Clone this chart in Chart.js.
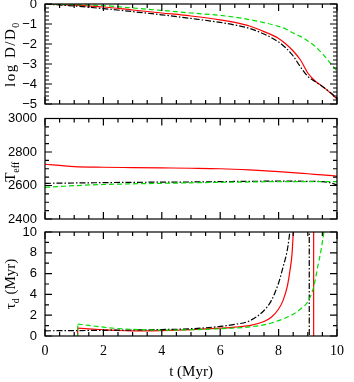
<!DOCTYPE html>
<html>
<head>
<meta charset="utf-8">
<script src="https://cdn.jsdelivr.net/npm/chart.js@4.4.1/dist/chart.umd.min.js"></script>
<style>
  body { margin: 0; background: #fff; width: 354px; height: 382px; position: relative; overflow: hidden; }
  canvas { position: absolute; left: 0; }
</style>
</head>
<body>
<canvas id="p1" style="top:-6px" width="354" height="121"></canvas>
<canvas id="p2" style="top:108px" width="354" height="122"></canvas>
<canvas id="p3" style="top:222px" width="354" height="160"></canvas>
<script>
// top panel: log D/D0
const tD = [0, 1, 2, 3, 4, 5, 6, 6.5, 7, 7.5, 8, 8.25, 8.5, 8.75, 9, 9.25, 9.5, 9.75, 10];
const logDRed = [0, -0.06, -0.15, -0.3, -0.45, -0.6, -0.79, -0.92, -1.1, -1.38, -1.72, -2.0, -2.35, -2.8, -3.45, -3.85, -4.12, -4.42, -4.75];
const logDBlack = [0, -0.1, -0.23, -0.38, -0.54, -0.72, -0.92, -1.05, -1.22, -1.5, -1.9, -2.2, -2.6, -3.15, -3.62, -3.88, -4.12, -4.4, -4.7];
const logDGreen = [0, -0.03, -0.08, -0.2, -0.32, -0.45, -0.57, -0.66, -0.78, -0.93, -1.12, -1.25, -1.45, -1.62, -1.85, -2.12, -2.48, -2.92, -3.35];

// middle panel: Teff
const tT = [0, 0.5, 1, 2, 3, 4, 5, 6, 7, 8, 9, 9.5, 9.75, 10];
const teffRed = [2727, 2720, 2713, 2709, 2707, 2705, 2703, 2700, 2693, 2683, 2670, 2663, 2660, 2656];
const teffBlack = [2613, 2614, 2615, 2617, 2619, 2620, 2621, 2623, 2625, 2626, 2625, 2623, 2617, 2604];
const teffGreen = [2589, 2594, 2599, 2606, 2610, 2613, 2616, 2619, 2621, 2623, 2623, 2623, 2623, 2623];

// bottom panel: tau_d
const tTauBlack = [0, 1, 2, 3, 4, 5, 6, 6.5, 7, 7.5, 7.75, 8, 8.15, 8.3, 8.4];
const tauBlack = [0.5, 0.52, 0.55, 0.58, 0.62, 0.7, 0.92, 1.12, 1.45, 2.45, 3.4, 5.1, 6.6, 8.3, 10.3];
const tTauRed = [1.12, 1.5, 2, 2.5, 3, 4, 5, 6, 6.5, 7, 7.5, 7.75, 8, 8.15, 8.3, 8.4, 8.46, 8.5, 8.53];
const tauRed = [0.75, 0.68, 0.6, 0.53, 0.5, 0.52, 0.6, 0.75, 0.86, 1.0, 1.4, 1.8, 2.6, 3.4, 4.8, 6.5, 7.9, 9.8, 11.5];
const tTauGreen = [1.12, 1.5, 2, 2.5, 3, 4, 5, 6, 6.5, 7, 7.5, 8, 8.5, 8.75, 9, 9.2, 9.35, 9.45, 9.55, 9.6];
const tauGreen = [1.15, 1.02, 0.85, 0.72, 0.64, 0.57, 0.6, 0.7, 0.77, 0.87, 1.07, 1.48, 2.1, 2.6, 3.3, 4.7, 6.8, 8.2, 10, 11.2];
// vertical jumps (t, tau); null splits the line
const jumpRed = [[1.12, -1], [1.12, 0.75], [9.2, null], [9.2, -1], [9.2, 11]];
const jumpGreen = [[1.12, -1], [1.12, 1.15]];
const jumpBlack = [[9.05, -1], [9.05, 11]];

const RED = '#ff0000', GREEN = '#00dd00', BLACK = '#000000';
const DASHDOT = [6, 2, 1.5, 2], DASHED = [5, 3];
const SANS = 'Liberation Sans', SERIF = 'Liberation Serif';

const pts = (xs, ys) => xs.map((x, i) => ({ x: x, y: ys[i] }));
const pairs = arr => arr.map(p => ({ x: p[0], y: p[1] }));

function curve(data, color, dash, smooth) {
  return {
    data: data,
    borderColor: color,
    borderWidth: 1.2,
    borderDash: dash || [],
    pointRadius: 0,
    fill: false,
    tension: 0,
    cubicInterpolationMode: smooth ? 'monotone' : 'default',
  };
}

// box + inside ticks on all sides, plus y title with subscripts
const framePlugin = {
  id: 'frame',
  afterDatasetsDraw(chart, args, opts) {
    const { ctx, chartArea: a } = chart;
    const x = chart.scales.x, y = chart.scales.y;
    ctx.save();
    ctx.strokeStyle = '#000';
    ctx.lineWidth = 1.2;
    ctx.setLineDash([]);
    ctx.strokeRect(a.left, a.top, a.right - a.left, a.bottom - a.top);
    const isMajor = (v, step) => Math.abs(v / step - Math.round(v / step)) < 1e-6;
    ctx.beginPath();
    for (let v = x.min; v <= x.max + 1e-9; v += opts.xMinor) {
      const px = x.getPixelForValue(v);
      const len = isMajor(v, opts.xMajor) ? 7 : 4;
      ctx.moveTo(px, a.bottom); ctx.lineTo(px, a.bottom - len);
      ctx.moveTo(px, a.top); ctx.lineTo(px, a.top + len);
    }
    for (let v = y.min; v <= y.max + 1e-9; v += opts.yMinor) {
      const py = y.getPixelForValue(v);
      const len = isMajor(v - y.min, opts.yMajor) ? 7 : 4;
      ctx.moveTo(a.left, py); ctx.lineTo(a.left + len, py);
      ctx.moveTo(a.right, py); ctx.lineTo(a.right - len, py);
    }
    ctx.stroke();

    // rotated y title
    const parts = opts.title;
    const big = '15px "' + SERIF + '"', small = '10px "' + SERIF + '"';
    ctx.translate(11, (a.top + a.bottom) / 2 + (opts.titleDy || 0));
    ctx.rotate(-Math.PI / 2);
    ctx.letterSpacing = opts.spacing || '0px';
    let w = 0;
    parts.forEach(p => { ctx.font = p.sub ? small : big; w += ctx.measureText(p.t).width; });
    let cx = -w / 2;
    ctx.fillStyle = '#000';
    ctx.textBaseline = 'middle';
    ctx.textAlign = 'left';
    parts.forEach(p => {
      ctx.font = p.sub ? small : big;
      ctx.fillText(p.t, cx, p.sub ? 5 : 0);
      cx += ctx.measureText(p.t).width;
    });
    ctx.restore();
  }
};

function yScale(min, max, step) {
  return {
    type: 'linear', min: min, max: max,
    grid: { display: false, drawTicks: false },
    border: { display: false },
    ticks: {
      stepSize: step, padding: 8, color: '#000', autoSkip: false,
      font: { family: SANS, size: 13 },
      callback: v => String(v).replace('-', '\u2212'),
    },
    afterFit: s => { s.width = 45; s.paddingTop = 0; s.paddingBottom = 0; },
  };
}

function makeChart(id, datasets, yOpts, frameOpts, padding, showX) {
  const xOpts = {
    type: 'linear', min: 0, max: 10, display: showX,
    grid: { display: false, drawTicks: false },
    border: { display: false },
    ticks: { stepSize: 2, padding: 7, color: '#000', font: { family: SERIF, size: 14 } },
    title: { display: true, text: 't (Myr)', color: '#000', font: { family: SERIF, size: 15 }, padding: { top: 0, bottom: 1 } },
    afterFit: s => {
      if (showX) s.height = 46;
      s.paddingLeft = 0; s.paddingRight = 0;
    },
  };
  return new Chart(document.getElementById(id), {
    type: 'line',
    data: { datasets: datasets },
    options: {
      responsive: false,
      animation: false,
      layout: { padding: padding },
      plugins: { legend: { display: false }, tooltip: { enabled: false }, frame: frameOpts },
      scales: { x: xOpts, y: yOpts },
    },
    plugins: [framePlugin],
  });
}

makeChart('p1', [
  curve(pts(tD, logDGreen), GREEN, DASHED, true),
  curve(pts(tD, logDBlack), BLACK, DASHDOT, true),
  curve(pts(tD, logDRed), RED, null, true),
], yScale(-5, 0, 1), {
  xMinor: 0.5, xMajor: 2, yMinor: 0.2, yMajor: 1,
  title: [{ t: 'log D/D' }, { t: '0', sub: true }], spacing: '1.5px',
}, { top: 10, bottom: 11, left: 0, right: 17 }, false);

makeChart('p2', [
  curve(pts(tT, teffGreen), GREEN, DASHED, true),
  curve(pts(tT, teffBlack), BLACK, DASHDOT, true),
  curve(pts(tT, teffRed), RED, null, true),
], yScale(2400, 3000, 200), {
  xMinor: 0.5, xMajor: 2, yMinor: 50, yMajor: 200,
  title: [{ t: 'T' }, { t: 'eff', sub: true }], titleDy: 3,
}, { top: 10.5, bottom: 11, left: 0, right: 17 }, false);

makeChart('p3', [
  curve(pts(tTauGreen, tauGreen), GREEN, DASHED, true),
  curve(pairs(jumpGreen), GREEN, DASHED, false),
  curve(pts(tTauBlack, tauBlack), BLACK, DASHDOT, true),
  curve(pairs(jumpBlack), BLACK, DASHDOT, false),
  curve(pts(tTauRed, tauRed), RED, null, true),
  curve(pairs(jumpRed), RED, null, false),
], yScale(0, 10, 2), {
  xMinor: 0.5, xMajor: 2, yMinor: 1, yMajor: 2,
  title: [{ t: '\u03c4' }, { t: 'd', sub: true }, { t: ' (Myr)' }],
}, { top: 10, bottom: 0, left: 0, right: 17 }, true);
</script>
</body>
</html>
